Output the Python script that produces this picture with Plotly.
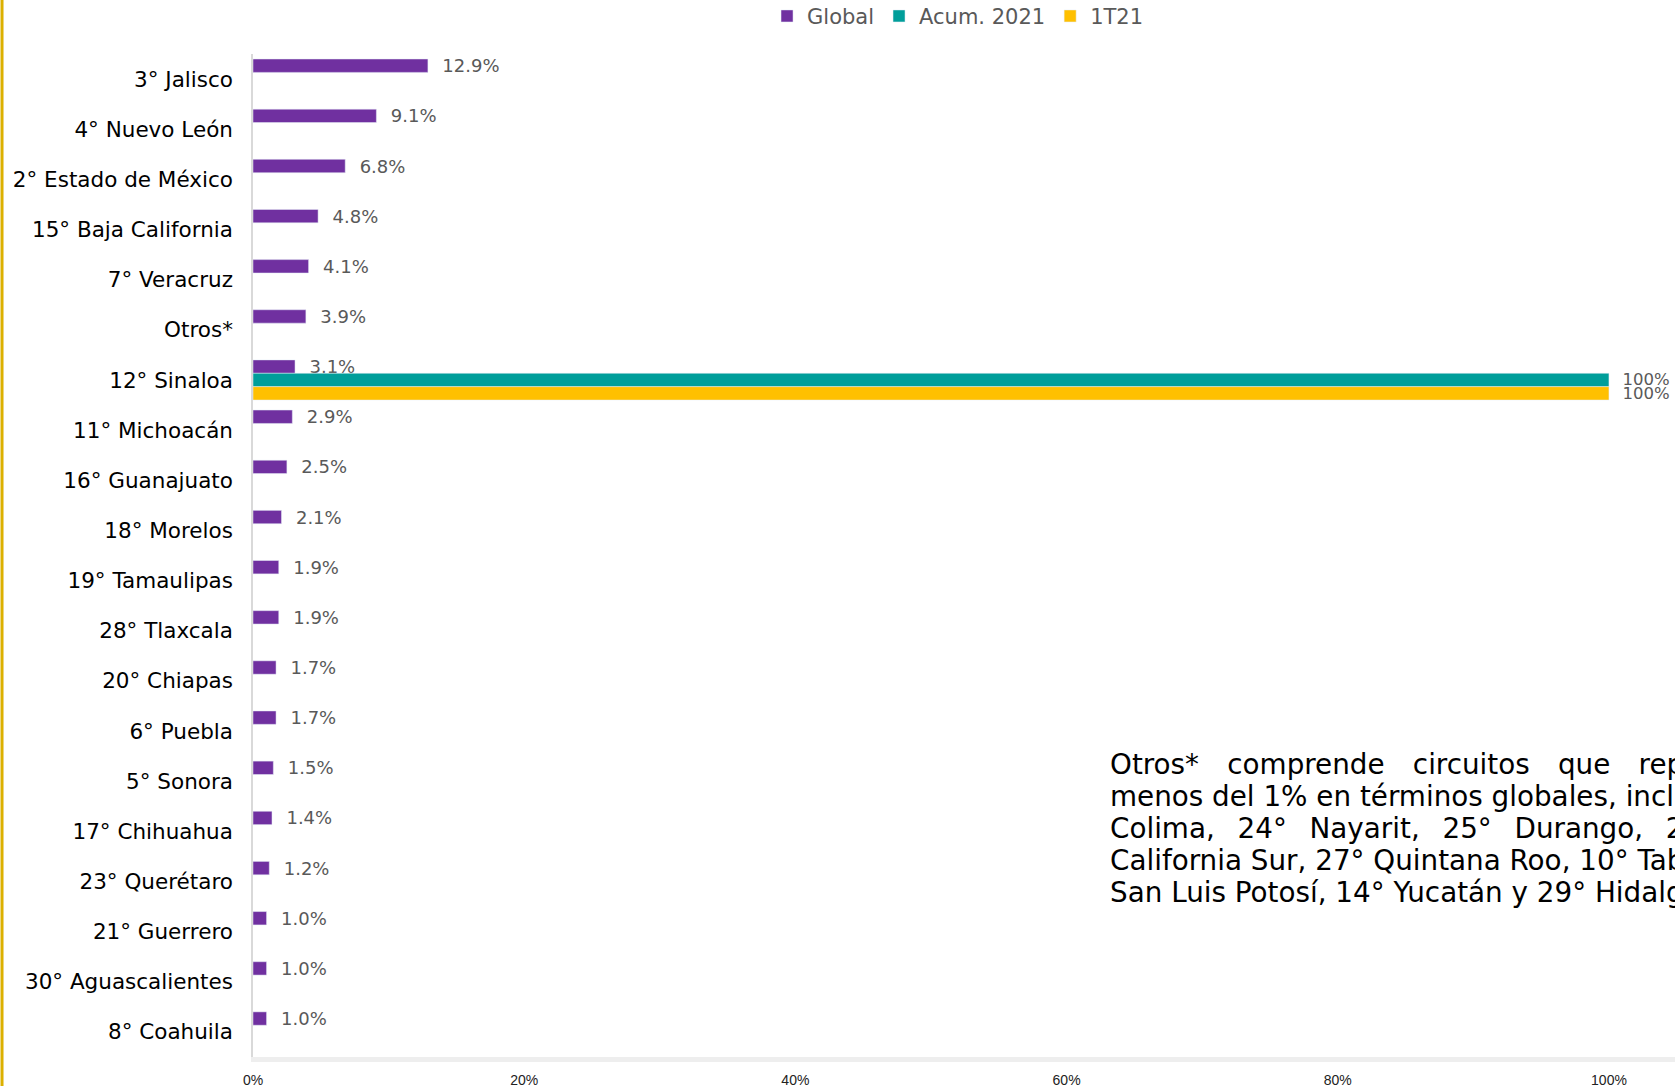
import plotly.graph_objects as go

# datos
estados = ['3° Jalisco', '4° Nuevo León', '2° Estado de México', '15° Baja California',
           '7° Veracruz', 'Otros*', '12° Sinaloa', '11° Michoacán', '16° Guanajuato',
           '18° Morelos', '19° Tamaulipas', '28° Tlaxcala', '20° Chiapas', '6° Puebla',
           '5° Sonora', '17° Chihuahua', '23° Querétaro', '21° Guerrero',
           '30° Aguascalientes', '8° Coahuila']
glob = [12.9, 9.1, 6.8, 4.8, 4.1, 3.9, 3.1, 2.9, 2.5, 2.1, 1.9, 1.9, 1.7, 1.7,
        1.5, 1.4, 1.2, 1.0, 1.0, 1.0]
acum_2021 = [None] * 6 + [100] + [None] * 13
t1_21 = [None] * 6 + [100] + [None] * 13
x_ticks = [0, 20, 40, 60, 80, 100]

# texto justificado: espacios mas anchos en algunas lineas
s1 = '\u00a0\u2002\u2009'
s3 = '\u00a0\u2002'
nota_lineas = [
    'Otros*' + s1 + 'comprende' + s1 + 'circuitos' + s1 + 'que' + s1 + 'representan',
    'menos del 1% en términos globales, incluyendo 9°',
    'Colima,' + s3 + '24°' + s3 + 'Nayarit,' + s3 + '25°' + s3 + 'Durango,' + s3 + '26° Baja',
    'California Sur, 27° Quintana Roo, 10° Tabasco, 13°',
    'San Luis Potosí, 14° Yucatán y 29° Hidalgo.',
]

morado = '#7030a0'
verde = '#009e9a'
amarillo = '#ffc000'
gris = '#595959'
fuente = 'DejaVu Sans, Verdana, sans-serif'


def etiquetas(vals, fmt):
    return ['' if v is None else '\u00a0\u00a0' + fmt.format(v) for v in vals]


fig = go.Figure()
fig.add_trace(go.Bar(y=estados, x=[v / 100 for v in glob], name='Global', orientation='h',
                     marker_color=morado, text=etiquetas(glob, '{:.1f}%'),
                     textposition='outside', cliponaxis=False, constraintext='none',
                     textfont=dict(size=18, color=gris, family=fuente)))
fig.add_trace(go.Bar(y=estados, x=[None if v is None else v / 100 for v in acum_2021],
                     name='Acum. 2021', orientation='h', marker_color=verde,
                     text=etiquetas(acum_2021, '{:.0f}%'), textposition='outside',
                     cliponaxis=False, constraintext='none',
                     textfont=dict(size=16.5, color=gris, family=fuente)))
fig.add_trace(go.Bar(y=estados, x=[None if v is None else v / 100 for v in t1_21],
                     name='1T21', orientation='h', marker_color=amarillo,
                     text=etiquetas(t1_21, '{:.0f}%'), textposition='outside',
                     cliponaxis=False, constraintext='none',
                     textfont=dict(size=16.5, color=gris, family=fuente)))

fig.update_layout(
    width=1675, height=1086,
    margin=dict(l=253, r=0, t=54, b=29, autoexpand=False),
    barmode='group', bargap=0.2, bargroupgap=0,
    plot_bgcolor='white', paper_bgcolor='white',
    font=dict(family=fuente, color='black'),
    legend=dict(orientation='h', xref='paper', x=0.4958, xanchor='center',
                yref='container', y=0.985, yanchor='middle',
                font=dict(size=21, color=gris), itemwidth=30, traceorder='normal'),
    showlegend=True,
)
fig.update_yaxes(autorange='reversed', automargin=False, showgrid=False, showline=True,
                 linecolor='#d9d9d9', linewidth=1.5, ticks='outside', ticklen=14,
                 tickcolor='rgba(0,0,0,0)',
                 tickfont=dict(size=21.5, color='black', family=fuente))
fig.update_xaxes(range=[0, 1.0487], automargin=False, tickvals=[t / 100 for t in x_ticks],
                 ticktext=[f'{t}%' for t in x_ticks], showgrid=False, zeroline=False,
                 showline=True, linecolor='#eeeeee', linewidth=5,
                 ticks='outside', ticklen=6, tickcolor='rgba(0,0,0,0)',
                 tickfont=dict(size=14, color='#222222',
                               family='Liberation Sans Narrow, Arial Narrow, sans-serif'))

# nota al pie
for i, linea in enumerate(nota_lineas):
    fig.add_annotation(text=linea, xref='paper', yref='paper', x=0.6013,
                       y=0.2921 - i * 0.0319, xanchor='left', yanchor='middle',
                       showarrow=False, align='left',
                       font=dict(size=27.8, color='black', family=fuente))

# barra amarilla a la izquierda
fig.add_shape(type='line', xref='paper', yref='paper', x0=-0.1765, x1=-0.1765,
              y0=-0.05, y1=1.08, line=dict(color='#dcb000', width=3))

fig.write_html('out.html', config={'displayModeBar': False},
               post_script="document.body.style.margin='0px';")
